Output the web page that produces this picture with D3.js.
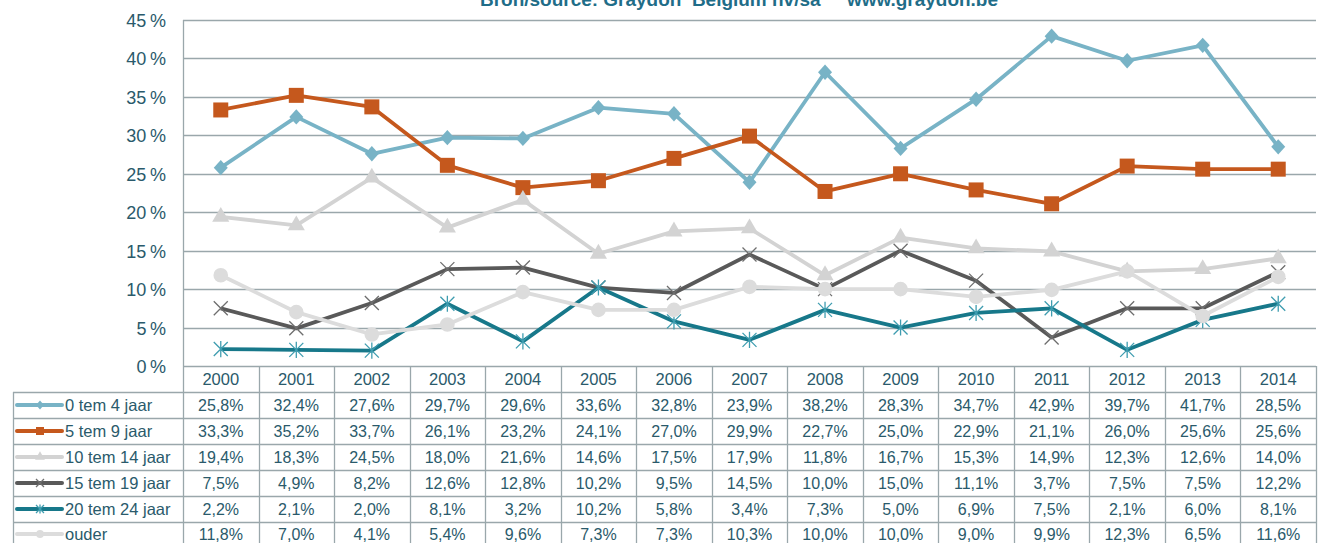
<!DOCTYPE html>
<html>
<head>
<meta charset="utf-8">
<script src="https://cdn.jsdelivr.net/npm/d3@7"></script>
<style>
html,body{margin:0;padding:0;background:#fff;}
svg{display:block;font-family:"Liberation Sans",Arial,sans-serif;}
</style>
</head>
<body>
<svg id="chart" width="1324" height="543"></svg>
<script>
const years = ["2000","2001","2002","2003","2004","2005","2006","2007","2008","2009","2010","2011","2012","2013","2014"];
const seriesNames = ["0 tem 4 jaar","5 tem 9 jaar","10 tem 14 jaar","15 tem 19 jaar","20 tem 24 jaar","ouder"];
const s0to4   = [25.8,32.4,27.6,29.7,29.6,33.6,32.8,23.9,38.2,28.3,34.7,42.9,39.7,41.7,28.5];
const s5to9   = [33.3,35.2,33.7,26.1,23.2,24.1,27.0,29.9,22.7,25.0,22.9,21.1,26.0,25.6,25.6];
const s10to14 = [19.4,18.3,24.5,18.0,21.6,14.6,17.5,17.9,11.8,16.7,15.3,14.9,12.3,12.6,14.0];
const s15to19 = [7.5,4.9,8.2,12.6,12.8,10.2,9.5,14.5,10.0,15.0,11.1,3.7,7.5,7.5,12.2];
const s20to24 = [2.2,2.1,2.0,8.1,3.2,10.2,5.8,3.4,7.3,5.0,6.9,7.5,2.1,6.0,8.1];
const sOuder  = [11.8,7.0,4.1,5.4,9.6,7.3,7.3,10.3,10.0,10.0,9.0,9.9,12.3,6.5,11.6];
const yTicks = [0,5,10,15,20,25,30,35,40,45];
const title = "Bron/source: Graydon  Belgium nv/sa     www.graydon.be";

const allValues = [s0to4,s5to9,s10to14,s15to19,s20to24,sOuder];
const colors = ["#78b3c6","#c5581d","#d3d3d3","#595959","#17788a","#dcdcdc"];
const markerColors = ["#78b3c6","#c5581d","#d3d3d3","#6e6e6e","#3f9db0","#dcdcdc"];
const markers = ["diamond","square","triangle","x","star","circle"];

const svg = d3.select("#chart");
const textColor = "#2a5a6b";
const gridColor = "#9aa7ab";
const pLeft = 183, pRight = 1316, pTop = 20, pBottom = 366;
const rowH = 26, headerH = 26, legendLeft = 13;

const x = d3.scaleBand().domain(years).range([pLeft, pRight]).padding(0);
const cx = d => x(d) + x.bandwidth()/2;
const y = d3.scaleLinear().domain([0,45]).range([pBottom, pTop]);

// title (cut off at the top edge, as in the reference)
svg.append("text").attr("x", 739).attr("y", 6).attr("text-anchor","middle")
  .attr("font-size", 18).attr("font-weight","bold").attr("fill","#1f6d88")
  .attr("textLength", 518).attr("lengthAdjust","spacingAndGlyphs")
  .style("white-space","pre").text(title);

// gridlines
svg.append("g").selectAll("line").data(yTicks.filter(t=>t>0)).join("line")
  .attr("x1", pLeft).attr("x2", pRight)
  .attr("y1", d=>Math.round(y(d))+0.5).attr("y2", d=>Math.round(y(d))+0.5)
  .attr("stroke", gridColor).attr("stroke-width", 1.3);

// y axis labels
const yAxis = d3.axisLeft(y).tickValues(yTicks).tickSize(0).tickPadding(0).tickFormat(d => d + "\u2009%");
const ya = svg.append("g").attr("transform", `translate(${pLeft-17},0)`).call(yAxis);
ya.select(".domain").remove();
ya.selectAll("text").attr("font-size", 18).attr("fill", textColor)
  .attr("font-family","'Liberation Sans',Arial,sans-serif").attr("dy","0.36em");

// left axis line
svg.append("line").attr("x1", pLeft+0.5).attr("x2", pLeft+0.5).attr("y1", pTop).attr("y2", pBottom)
  .attr("stroke", gridColor).attr("stroke-width", 1.3);

// table
const tbl = svg.append("g");
const tableBottom = pBottom + headerH + rowH*seriesNames.length;
tbl.append("line").attr("x1", pLeft).attr("x2", pRight).attr("y1", pBottom+0.5).attr("y2", pBottom+0.5)
  .attr("stroke", gridColor).attr("stroke-width", 1.3);
for (let i=0;i<=seriesNames.length;i++){
  const yy = pBottom + headerH + rowH*i + 0.5;
  tbl.append("line").attr("x1", legendLeft).attr("x2", pRight).attr("y1", yy).attr("y2", yy)
    .attr("stroke", gridColor).attr("stroke-width", 1.3);
}
years.forEach(yr => {
  tbl.append("line").attr("x1", Math.round(x(yr))+0.5).attr("x2", Math.round(x(yr))+0.5)
    .attr("y1", pBottom).attr("y2", tableBottom).attr("stroke", gridColor).attr("stroke-width", 1.3);
});
tbl.append("line").attr("x1", pRight+0.5).attr("x2", pRight+0.5).attr("y1", pBottom).attr("y2", tableBottom)
  .attr("stroke", gridColor).attr("stroke-width", 1.3);
tbl.append("line").attr("x1", legendLeft+0.5).attr("x2", legendLeft+0.5).attr("y1", pBottom+headerH).attr("y2", tableBottom)
  .attr("stroke", gridColor).attr("stroke-width", 1.3);

tbl.selectAll("text.hdr").data(years).join("text").attr("class","hdr")
  .attr("x", d=>cx(d)).attr("y", pBottom + headerH/2).attr("dy","0.36em")
  .attr("text-anchor","middle").attr("font-size", 16.5).attr("fill", textColor).text(d=>d);

const fmt = v => v.toFixed(1).replace(".", ",") + "%";

function markerPath(type, s){
  const h = s/2;
  switch(type){
    case "diamond": return `M0,${-h*1.1}L${h},0L0,${h*1.1}L${-h},0Z`;
    case "square": return d3.symbol().type(d3.symbolSquare).size(s*s)();
    case "triangle": return d3.symbol().type(d3.symbolTriangle).size(s*s*0.65)();
    case "circle": return d3.symbol().type(d3.symbolCircle).size(s*s*0.75)();
    case "x": return `M${-h},${-h}L${h},${h}M${-h},${h}L${h},${-h}`;
    case "star": return `M${-h},${-h}L${h},${h}M${-h},${h}L${h},${-h}M0,${-h*1.15}L0,${h*1.15}`;
  }
}
function drawMarker(g, type, color, size){
  const p = g.append("path").attr("d", markerPath(type, size));
  if (type==="x" || type==="star") p.attr("fill","none").attr("stroke", color).attr("stroke-width", 1.3);
  else p.attr("fill", color);
}

seriesNames.forEach((name,i) => {
  const ry = pBottom + headerH + rowH*i + rowH/2 - (i===seriesNames.length-1 ? 1 : 0);
  const vals = allValues[i];
  tbl.selectAll(`text.r${i}`).data(vals).join("text").attr("class",`r${i}`)
    .attr("x",(d,j)=>cx(years[j])).attr("y", ry).attr("dy","0.36em")
    .attr("text-anchor","middle").attr("font-size", 16).attr("fill", textColor).text(d=>fmt(d));
  tbl.append("line").attr("x1", 17).attr("x2", 62).attr("y1", ry).attr("y2", ry)
    .attr("stroke", colors[i]).attr("stroke-width", 4).attr("stroke-linecap","round");
  const mg = tbl.append("g").attr("transform", `translate(40,${ry})`);
  drawMarker(mg, markers[i], markerColors[i], 8);
  tbl.append("text").attr("x", 65).attr("y", ry).attr("dy","0.36em")
    .attr("font-size", 16.5).attr("fill", textColor).text(name);
});

const line = d3.line().x((d,j)=>cx(years[j])).y(d=>y(d));
const plot = svg.append("g");
allValues.forEach((vals,i) => {
  const g = plot.append("g");
  g.append("path").datum(vals).attr("d", line).attr("fill","none")
    .attr("stroke", colors[i]).attr("stroke-width", 3.8).attr("stroke-linejoin","round");
  vals.forEach((v,j) => {
    const mg = g.append("g").attr("transform", `translate(${cx(years[j])},${y(v)})`);
    drawMarker(mg, markers[i], markerColors[i], markers[i]==="square"?15:(markers[i]==="circle"?15:14));
  });
});
</script>
</body>
</html>
